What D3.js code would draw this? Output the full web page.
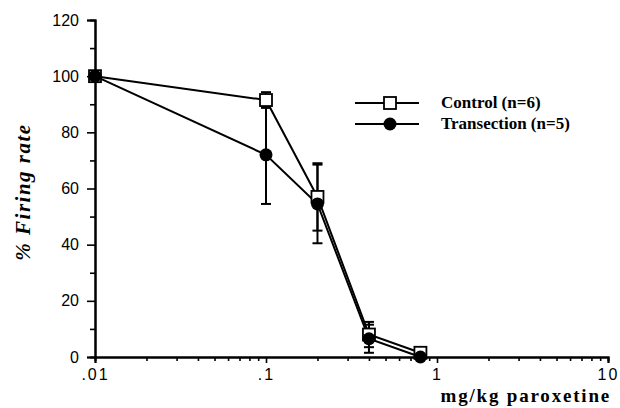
<!DOCTYPE html>
<html><head><meta charset="utf-8">
<script src="https://cdn.jsdelivr.net/npm/d3@7"></script>
<style>body{margin:0;background:#fff}svg{display:block}</style>
</head><body>
<svg id="c" width="620" height="408"></svg>
<script>
// Data
const doses = [0.01, 0.1, 0.2, 0.4, 0.8];
const controlMean = [100, 91.5, 57, 8, 1.5];
const controlErr  = [0, 2.8, 12, 4.5, 0];
const transMean   = [100, 72, 54.5, 6.5, 0];
const transErr    = [0, 17.5, 14, 5, 0];
const seriesNames = ["Control (n=6)", "Transection (n=5)"];
const xTickLabels = [".01", ".1", "1", "10"];
const yTicks = [0, 20, 40, 60, 80, 100, 120];

const svg = d3.select("#c");
const x = d3.scaleLog().domain([0.01, 10]).range([95, 608]);
const y = d3.scaleLinear().domain([0, 120]).range([357, 20]);

const g = svg.append("g");

// X axis
const xMajor = [0.01, 0.1, 1, 10];
const xMinor = [];
[0.01, 0.1, 1].forEach(d => { for (let k = 2; k <= 9; k++) xMinor.push(d * k); });
const xAxisMinor = d3.axisBottom(x).tickValues(xMinor).tickSize(4).tickFormat("");
const xAxisMajor = d3.axisBottom(x).tickValues(xMajor).tickSize(6)
  .tickFormat((d, i) => xTickLabels[i]).tickPadding(6);
g.append("g").attr("transform", "translate(0,357)").call(xAxisMinor);
const gx = g.append("g").attr("transform", "translate(0,357)").call(xAxisMajor);

// Y axis
const yMinor = d3.range(10, 120, 20);
g.append("g").attr("transform", "translate(95,0)")
  .call(d3.axisLeft(y).tickValues(yMinor).tickSize(5).tickFormat(""));
const gy = g.append("g").attr("transform", "translate(95,0)")
  .call(d3.axisLeft(y).tickValues(yTicks).tickSize(8).tickPadding(8).tickFormat(d3.format("d")));

svg.selectAll(".domain").attr("stroke", "#000").attr("stroke-width", 2);
svg.selectAll(".tick line").attr("stroke", "#000").attr("stroke-width", 1.6);
svg.selectAll(".tick text").attr("fill", "#000")
  .style("font-family", "'Liberation Sans', Arial, sans-serif").style("font-size", "16px");
gx.selectAll(".tick text").style("letter-spacing", "2px");

// Series
const control = doses.map((d, i) => ({x: d, y: controlMean[i], e: controlErr[i]}));
const trans = doses.map((d, i) => ({x: d, y: transMean[i], e: transErr[i]}));
const line = d3.line().x(d => x(d.x)).y(d => y(d.y));

[control, trans].forEach(s => {
  g.append("path").datum(s).attr("d", line).attr("fill", "none")
    .attr("stroke", "#000").attr("stroke-width", 2);
});

// Error bars
function errBars(s) {
  const eb = g.append("g").attr("stroke", "#000").attr("stroke-width", 2);
  s.filter(d => d.e > 0).forEach(d => {
    const cx = x(d.x);
    eb.append("line").attr("x1", cx).attr("x2", cx).attr("y1", y(d.y - d.e)).attr("y2", y(d.y + d.e));
    [d.y - d.e, d.y + d.e].forEach(v => {
      eb.append("line").attr("x1", cx - 5).attr("x2", cx + 5).attr("y1", y(v)).attr("y2", y(v));
    });
  });
}
errBars(trans);
errBars(control);

// Markers
g.selectAll(".sq").data(control).join("rect")
  .attr("x", d => x(d.x) - 6).attr("y", d => y(d.y) - 6)
  .attr("width", 12).attr("height", 12)
  .attr("fill", "#fff").attr("stroke", "#000").attr("stroke-width", 1.8);
g.selectAll(".ci").data(trans).join("circle")
  .attr("cx", d => x(d.x)).attr("cy", d => y(d.y)).attr("r", 6.5).attr("fill", "#000");

// Legend
const leg = svg.append("g");
const legY = [103, 124];
seriesNames.forEach((name, i) => {
  leg.append("line").attr("x1", 355).attr("x2", 419).attr("y1", legY[i]).attr("y2", legY[i])
    .attr("stroke", "#000").attr("stroke-width", 2);
  if (i === 0) {
    leg.append("rect").attr("x", 384).attr("y", legY[i] - 6).attr("width", 12).attr("height", 12)
      .attr("fill", "#fff").attr("stroke", "#000").attr("stroke-width", 1.8);
  } else {
    leg.append("circle").attr("cx", 390).attr("cy", legY[i]).attr("r", 6.5).attr("fill", "#000");
  }
  leg.append("text").attr("x", 441).attr("y", legY[i] + 5).text(name)
    .style("font-family", "'Liberation Serif', 'Times New Roman', serif")
    .style("font-weight", "bold").style("font-size", "17px");
});

// Axis titles
svg.append("text").attr("transform", "translate(30,192) rotate(-90)")
  .attr("text-anchor", "middle").text("%  Firing  rate")
  .style("font-family", "'Liberation Serif', 'Times New Roman', serif")
  .style("font-weight", "bold").style("font-style", "italic")
  .style("font-size", "21px").style("letter-spacing", "1.5px");
svg.append("text").attr("x", 611).attr("y", 402).attr("text-anchor", "end")
  .text("mg/kg  paroxetine")
  .style("font-family", "'Liberation Serif', 'Times New Roman', serif")
  .style("font-weight", "bold").style("font-size", "19px").style("letter-spacing", "1.8px");
</script>
</body></html>
